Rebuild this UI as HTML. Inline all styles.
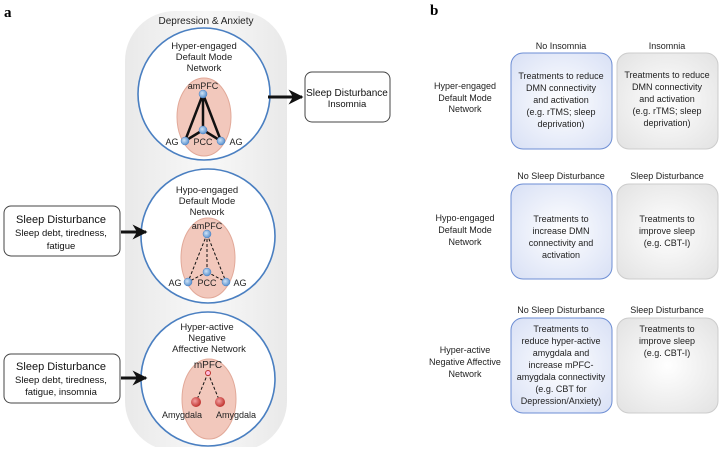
<!DOCTYPE html>
<html><head><meta charset="utf-8"><style>
body{margin:0;background:#fff;width:719px;height:447px;overflow:hidden;font-family:"Liberation Sans",sans-serif;}
</style></head><body>
<svg width="719" height="447" viewBox="0 0 719 447" xmlns="http://www.w3.org/2000/svg" font-family="Liberation Sans, sans-serif">
<defs>
<linearGradient id="cap" x1="0" x2="1" y1="0" y2="0"><stop offset="0" stop-color="#e9e9e9"/><stop offset="0.5" stop-color="#f8f8f8"/><stop offset="1" stop-color="#e9e9e9"/></linearGradient>
<radialGradient id="blueb" cx="0.5" cy="0.5" r="0.7"><stop offset="0" stop-color="#fff"/><stop offset="1" stop-color="#d8e0f5"/></radialGradient>
<radialGradient id="grayb" cx="0.5" cy="0.5" r="0.7"><stop offset="0" stop-color="#fff"/><stop offset="1" stop-color="#e2e2e2"/></radialGradient>
<radialGradient id="node" cx="0.4" cy="0.4" r="0.6"><stop offset="0" stop-color="#cfe3f7"/><stop offset="1" stop-color="#5b93cf"/></radialGradient>
<radialGradient id="rnode" cx="0.4" cy="0.4" r="0.6"><stop offset="0" stop-color="#f3a0a0"/><stop offset="1" stop-color="#c0332f"/></radialGradient>
<marker id="ar" viewBox="0 0 10 10" refX="9" refY="5" markerWidth="5" markerHeight="5" orient="auto"><path d="M0,0 L10,5 L0,10 L3,5z" fill="#111"/></marker>
</defs>
<text x="4" y="17" font-family="Liberation Serif, serif" font-weight="bold" font-size="15">a</text>
<text x="430" y="15" font-family="Liberation Serif, serif" font-weight="bold" font-size="15">b</text>

<rect x="125" y="11" width="162" height="440" rx="50" fill="url(#cap)"/>
<text x="206" y="24" font-size="10" text-anchor="middle" fill="#222">Depression &amp; Anxiety</text>

<g stroke="#4a7fc1" stroke-width="1.6" fill="#fff">
<circle cx="204" cy="94" r="66"/>
<circle cx="208" cy="236" r="67"/>
<circle cx="208" cy="379" r="67"/>
</g>
<g font-size="9.5" text-anchor="middle" fill="#222">
<text x="204" y="49">Hyper-engaged</text><text x="204" y="60">Default Mode</text><text x="204" y="71">Network</text>
<text x="207" y="193">Hypo-engaged</text><text x="207" y="204">Default Mode</text><text x="207" y="215">Network</text>
<text x="207" y="330">Hyper-active</text><text x="207" y="341">Negative</text><text x="209" y="352">Affective Network</text>
</g>
<g fill="#f2c8bc" stroke="#e2a999" stroke-width="1">
<ellipse cx="204" cy="117" rx="27" ry="39"/>
<ellipse cx="208" cy="258" rx="27" ry="40"/>
<ellipse cx="209" cy="399" rx="27" ry="40"/>
</g>
<g stroke="#111" stroke-width="2.5" fill="none">
<path d="M203,94 L185,141 M203,94 L221,141 M203,94 L203,130 M203,130 L185,141 M203,130 L221,141"/>
</g>
<g fill="url(#node)" stroke="#4a7fc1" stroke-width="0.5">
<circle cx="203" cy="94" r="4"/><circle cx="203" cy="130" r="4"/><circle cx="185" cy="141" r="4"/><circle cx="221" cy="141" r="4"/>
</g>
<g font-size="9" fill="#222" text-anchor="middle">
<text x="203" y="89">amPFC</text><text x="203" y="145">PCC</text><text x="172" y="145">AG</text><text x="236" y="145">AG</text>
</g>
<g stroke="#111" stroke-width="1" stroke-dasharray="3,2" fill="none">
<path d="M207,234 L188,282 M207,234 L226,282 M207,234 L207,272 M207,272 L188,282 M207,272 L226,282"/>
</g>
<g fill="url(#node)" stroke="#4a7fc1" stroke-width="0.5">
<circle cx="207" cy="234" r="4"/><circle cx="207" cy="272" r="4"/><circle cx="188" cy="282" r="4"/><circle cx="226" cy="282" r="4"/>
</g>
<g font-size="9" fill="#222" text-anchor="middle">
<text x="207" y="229">amPFC</text><text x="207" y="286">PCC</text><text x="175" y="286">AG</text><text x="240" y="286">AG</text>
</g>
<g stroke="#111" stroke-width="1" stroke-dasharray="3,2" fill="none">
<path d="M208,373 L196,402 M208,373 L220,402"/>
</g>
<circle cx="208" cy="373" r="2.5" fill="#fbd" stroke="#c0332f"/>
<circle cx="196" cy="402" r="5" fill="url(#rnode)"/><circle cx="220" cy="402" r="5" fill="url(#rnode)"/>
<g font-size="9" fill="#222" text-anchor="middle">
<text x="208" y="368" font-size="10">mPFC</text><text x="182" y="418">Amygdala</text><text x="236" y="418">Amygdala</text>
</g>

<g fill="#fff" stroke="#444" stroke-width="1">
<rect x="305" y="72" width="85" height="50" rx="7"/>
<rect x="4" y="206" width="116" height="50" rx="7"/>
<rect x="4" y="354" width="116" height="49" rx="7"/>
</g>
<g text-anchor="middle" fill="#111">
<text x="347" y="96" font-size="10">Sleep Disturbance</text><text x="347" y="107" font-size="9.5">Insomnia</text>
<text x="61" y="223" font-size="11">Sleep Disturbance</text><text x="61" y="236" font-size="9.5">Sleep debt, tiredness,</text><text x="61" y="249" font-size="9.5">fatigue</text>
<text x="61" y="370" font-size="11">Sleep Disturbance</text><text x="61" y="383" font-size="9.5">Sleep debt, tiredness,</text><text x="61" y="395" font-size="9.5">fatigue, insomnia</text>
</g>
<g stroke="#111" stroke-width="3" marker-end="url(#ar)">
<line x1="268" y1="97" x2="302" y2="97"/>
<line x1="121" y1="232" x2="146" y2="232"/>
<line x1="121" y1="378" x2="146" y2="378"/>
</g>

<g stroke-width="1">
<rect x="511" y="53" width="101" height="96" rx="12" fill="url(#blueb)" stroke="#6d8ed4"/>
<rect x="617" y="53" width="101" height="96" rx="12" fill="url(#grayb)" stroke="#ccc"/>
<rect x="511" y="184" width="101" height="95" rx="12" fill="url(#blueb)" stroke="#6d8ed4"/>
<rect x="617" y="184" width="101" height="95" rx="12" fill="url(#grayb)" stroke="#ccc"/>
<rect x="511" y="318" width="101" height="95" rx="12" fill="url(#blueb)" stroke="#6d8ed4"/>
<rect x="617" y="318" width="101" height="95" rx="12" fill="url(#grayb)" stroke="#ccc"/>
</g>
<g font-size="9" text-anchor="middle" fill="#222">
<text x="561" y="49">No Insomnia</text><text x="667" y="49">Insomnia</text>
<text x="561" y="179">No Sleep Disturbance</text><text x="667" y="179">Sleep Disturbance</text>
<text x="561" y="313">No Sleep Disturbance</text><text x="667" y="313">Sleep Disturbance</text>
<text x="465" y="89">Hyper-engaged</text><text x="465" y="101">Default Mode</text><text x="465" y="112">Network</text>
<text x="465" y="221">Hypo-engaged</text><text x="465" y="233">Default Mode</text><text x="465" y="245">Network</text>
<text x="465" y="353">Hyper-active</text><text x="465" y="365">Negative Affective</text><text x="465" y="377">Network</text>
</g>
<g font-size="9" text-anchor="middle" fill="#222">
<text x="561" y="79">Treatments to reduce</text><text x="561" y="91">DMN connectivity</text><text x="561" y="103">and activation</text><text x="561" y="115">(e.g. rTMS; sleep</text><text x="561" y="127">deprivation)</text>
<text x="667" y="78">Treatments to reduce</text><text x="667" y="90">DMN connectivity</text><text x="667" y="102">and activation</text><text x="667" y="114">(e.g. rTMS; sleep</text><text x="667" y="126">deprivation)</text>
<text x="561" y="222">Treatments to</text><text x="561" y="234">increase DMN</text><text x="561" y="246">connectivity and</text><text x="561" y="258">activation</text>
<text x="667" y="222">Treatments to</text><text x="667" y="234">improve sleep</text><text x="667" y="246">(e.g. CBT-I)</text>
<text x="561" y="332">Treatments to</text><text x="561" y="344">reduce hyper-active</text><text x="561" y="356">amygdala and</text><text x="561" y="368">increase mPFC-</text><text x="561" y="380">amygdala connectivity</text><text x="561" y="392">(e.g. CBT for</text><text x="561" y="404">Depression/Anxiety)</text>
<text x="667" y="332">Treatments to</text><text x="667" y="344">improve sleep</text><text x="667" y="356">(e.g. CBT-I)</text>
</g>
</svg>
</body></html>
